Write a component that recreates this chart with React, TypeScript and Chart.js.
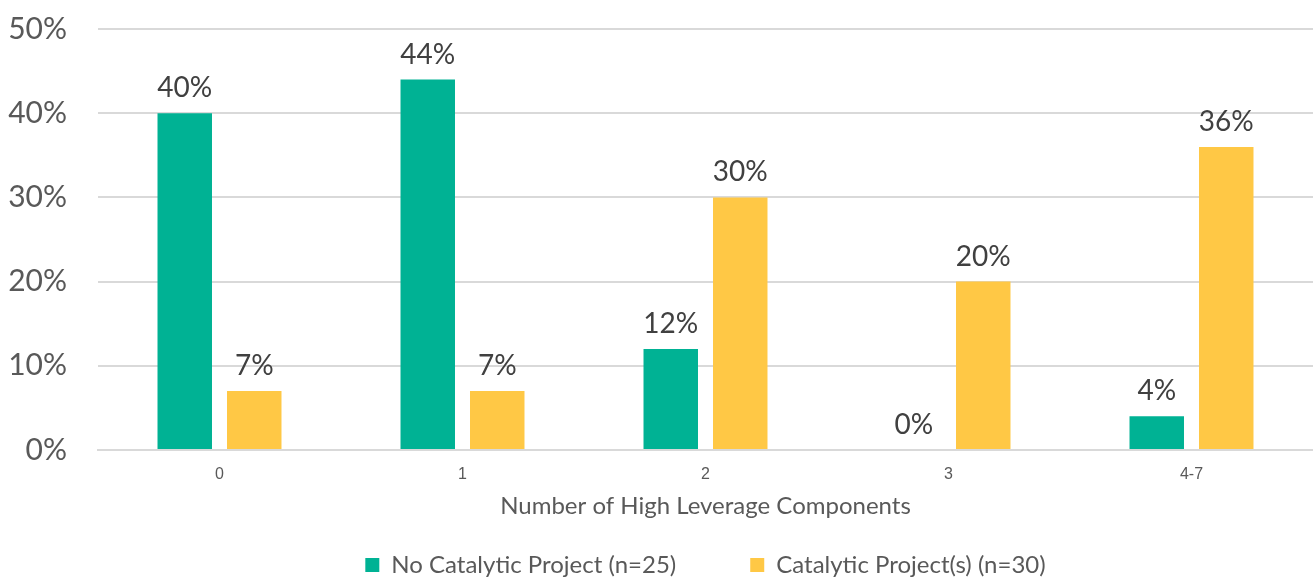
import React, { useEffect, useRef } from "react";
import { Chart, registerables } from "chart.js";

Chart.register(...registerables);

const categories = ["0", "1", "2", "3", "4-7"];
const noCatalytic = [40, 44, 12, 0, 4];
const catalytic = [7, 7, 30, 20, 36];
const seriesNames = ["No Catalytic Project (n=25)", "Catalytic Project(s) (n=30)"];
const yTicks = [0, 10, 20, 30, 40, 50];
const xTitle = "Number of High Leverage Components";

const FONT = "Lato, 'Noto Sans', sans-serif";

const dataLabelPlugin = {
  id: "dataLabels",
  afterDatasetsDraw(chart: any) {
    const ctx = chart.ctx;
    ctx.save();
    ctx.font = `28px ${FONT}`;
    ctx.fillStyle = "#404040";
    ctx.textAlign = "center";
    ctx.textBaseline = "alphabetic";
    chart.data.datasets.forEach((ds: any, i: number) => {
      const meta = chart.getDatasetMeta(i);
      meta.data.forEach((bar: any, j: number) => {
        const v = ds.data[j];
        ctx.fillText(`${v}%`, bar.x, bar.y - 16);
      });
    });
    ctx.restore();
  },
};

export default function App() {
  const ref = useRef<HTMLCanvasElement>(null);
  useEffect(() => {
    document.body.style.margin = "0";
    const chart = new Chart(ref.current!, {
      type: "bar",
      data: {
        labels: categories,
        datasets: [
          { label: seriesNames[0], data: noCatalytic, backgroundColor: "#00B294", categoryPercentage: 0.572, barPercentage: 0.784 },
          { label: seriesNames[1], data: catalytic, backgroundColor: "#FFC845", categoryPercentage: 0.572, barPercentage: 0.784 },
        ],
      },
      options: {
        animation: false,
        responsive: false,
        maintainAspectRatio: false,
        layout: { padding: { top: 29, right: 0, left: 0, bottom: -8 } },
        plugins: {
          tooltip: { enabled: false },
          legend: {
            position: "bottom",
            fullSize: false,
            labels: {
              boxWidth: 14,
              boxHeight: 14,
              padding: 74,
              color: "#595959",
              font: { family: FONT, size: 24 },
            },
          },
        },
        scales: {
          x: {
            grid: { display: false, drawTicks: false },
            border: { display: true, color: "#D9D9D9", width: 2 },
            ticks: { color: "#595959", font: { family: "'Liberation Sans', Arial, sans-serif", size: 16 }, padding: 15 },
            title: { display: true, text: xTitle, color: "#595959", font: { family: FONT, size: 24 }, padding: { top: 0, bottom: -42 } },
            afterFit: (scale: any) => {
              scale.height = 29;
            },
          },
          y: {
            min: 0,
            max: 50,
            afterBuildTicks: (scale: any) => {
              scale.ticks = yTicks.map((v) => ({ value: v }));
            },
            afterFit: (scale: any) => {
              scale.width = 98;
            },
            grid: { color: "#D9D9D9", lineWidth: 2, drawTicks: true, tickLength: 31, tickColor: "rgba(0,0,0,0)" },
            border: { display: false },
            ticks: {
              color: "#595959",
              font: { family: FONT, size: 30 },
              padding: 0,
              callback: (v: any) => `${v}%`,
            },
          },
        },
      },
      plugins: [dataLabelPlugin],
    });
    return () => chart.destroy();
  }, []);
  return (
    <div style={{ position: "relative", width: 1313, height: 579 }}>
      <canvas ref={ref} width={1313} height={579} style={{ display: "block" }} />
    </div>
  );
}
